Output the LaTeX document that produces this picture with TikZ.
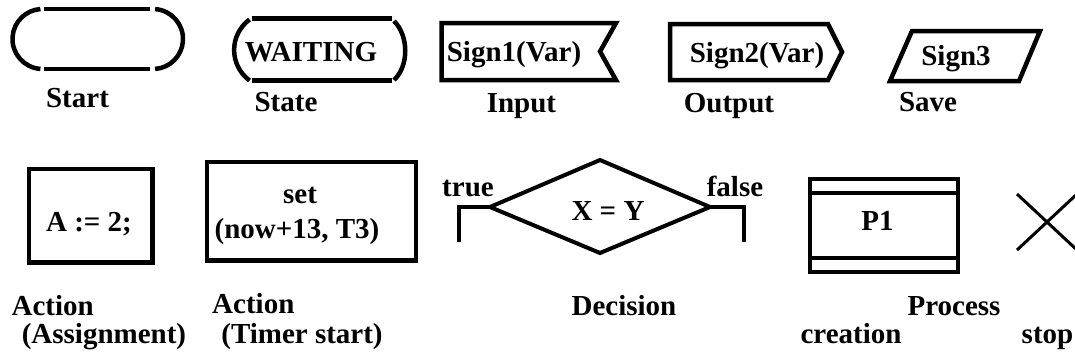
\documentclass[tikz,border=0pt]{standalone}
\usepackage{fontspec}
\setmainfont{Liberation Serif}
\begin{document}
\begin{tikzpicture}[x=1pt,y=-1pt,line width=4.5pt,line join=miter,
  lbl/.style={inner sep=0pt,anchor=base,font=\fontsize{29}{34}\selectfont\bfseries},
  thinline/.style={line width=4pt},
  crossline/.style={line width=3pt}]
\useasboundingbox (0,0) rectangle (1075,360);
% ---- Start
\draw (43.5,9) -- (150,9);
\draw (43.5,69) -- (150,69);
\draw (40.4,68.9) arc[start angle=94,end angle=266,radius=30];
\draw (155.1,9.1) arc[start angle=-86,end angle=86,radius=30];
\node[lbl] (lstart) at (77.5,107) {Start};
% ---- State
\draw (251.5,18.7) -- (391.5,18.7);
\draw (251.5,80.5) -- (391.5,80.5);
\draw (249.5,19.5) .. controls (229,35) and (229,65) .. (249.5,80.5);
\draw (394,21) .. controls (409,36) and (409,66) .. (394,80);
\node[lbl] (waiting) at (311,61) {WAITING};
\node[lbl] (lstate) at (286,111.5) {State};
% ---- Input
\draw (441.5,23) -- (616,23) -- (600,51.5) -- (616,80) -- (441.5,80) -- cycle;
\node[lbl] (sign1) at (514,61.5) {Sign1(Var)};
\node[lbl] (linput) at (521.5,112.5) {Input};
% ---- Output
\draw (670,24) -- (828,24) -- (842,52) -- (828,80) -- (670,80) -- cycle;
\node[lbl] (sign2) at (757,62) {Sign2(Var)};
\node[lbl] (loutput) at (729,112.5) {Output};
% ---- Save
\draw (912,31) -- (1040,31) -- (1019,81) -- (890,81) -- cycle;
\node[lbl] (sign3) at (956,65) {Sign3};
\node[lbl] (lsave) at (928,111.5) {Save};
% ---- Action (Assignment)
\draw (29,169) rectangle (152.5,262.5);
\node[lbl] (assign) at (89,231) {A := 2;};
\node[lbl] (lact1) at (52.7,315) {Action};
\node[lbl] (lact1b) at (104,343) {(Assignment)};
% ---- Action (Timer start)
\draw (207,162) rectangle (416,260.5);
\node[lbl] (set) at (300,203) {set};
\node[lbl] (setarg) at (297,238) {(now+13, T3)};
\node[lbl] (lact2) at (253.3,313) {Action};
\node[lbl] (lact2b) at (302,343) {(Timer start)};
% ---- Decision
\coordinate (dl) at (490,207);
\coordinate (dt) at (600,160);
\coordinate (dr) at (710,207);
\coordinate (db) at (600,253);
\coordinate (tend) at (459,242);
\coordinate (fend) at (744,242);
\draw[thinline] (dl) -- (dt) -- (dr) -- (db) -- cycle;
\draw[thinline] (dl) -- (tend |- dl) -- (tend);
\draw[thinline] (dr) -- (fend |- dr) -- (fend);
\node[lbl] (true) at (468,196.7) {true};
\node[lbl] (false) at (735,196.7) {false};
\node[lbl] (xy) at (608,220) {X = Y};
\node[lbl] (ldec) at (624,315) {Decision};
% ---- Process creation
\draw[thinline] (809.5,179) rectangle (957.5,271.5);
\draw[thinline] (809.5,192.7) -- (957.5,192.7);
\draw[thinline] (809.5,258.3) -- (957.5,258.3);
\node[lbl] (p1) at (877.5,230.7) {P1};
\node[lbl] (lproc) at (954,315) {Process};
\node[lbl] (lcreat) at (851,343) {creation};
% ---- stop
\draw[crossline] (1017,194) -- (1077,250);
\draw[crossline] (1017,250) -- (1077,194);
\node[lbl] (lstop) at (1047.5,343) {stop};
\end{tikzpicture}
\end{document}
